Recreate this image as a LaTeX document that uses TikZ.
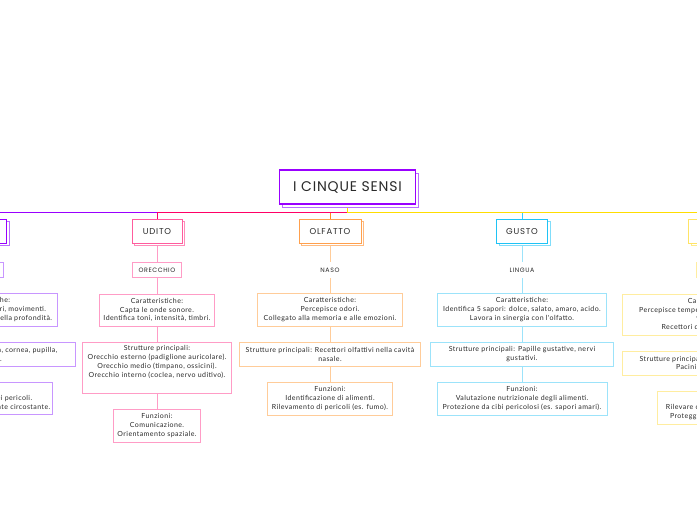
\documentclass[tikz,border=0pt]{standalone}
\usepackage{fontspec}
\setmainfont{Lato}
\newfontfamily\headfont{Poppins}[LetterSpace=9]
\newfontfamily\titlefont{Poppins}[LetterSpace=6]
\newfontfamily\bodyfont{Lato}[LetterSpace=6]
\usetikzlibrary{shadows,backgrounds}
\definecolor{textc}{HTML}{2A2A2A}
\definecolor{purpleMain}{HTML}{9900FF}
\definecolor{purpleShadow}{HTML}{B870FF}
\definecolor{purpleLight}{HTML}{C896FF}
\definecolor{pinkMain}{HTML}{FF0066}
\definecolor{pinkHead}{HTML}{FF5C9D}
\definecolor{pinkShadow}{HTML}{FF8CBA}
\definecolor{pinkLight}{HTML}{FF9CC6}
\definecolor{orangeMain}{HTML}{FF8A1F}
\definecolor{orangeHead}{HTML}{FFA04D}
\definecolor{orangeShadow}{HTML}{FFBB80}
\definecolor{orangeLight}{HTML}{FFCC99}
\definecolor{blueMain}{HTML}{33CCFF}
\definecolor{blueHead}{HTML}{1FC3F5}
\definecolor{blueShadow}{HTML}{80DDFA}
\definecolor{blueLight}{HTML}{9CE3FA}
\definecolor{yellowMain}{HTML}{FFDD00}
\definecolor{yellowHead}{HTML}{FFE466}
\definecolor{yellowShadow}{HTML}{FFEC8C}
\definecolor{yellowLight}{HTML}{FFEDA0}
\tikzset{
  titlebox/.style={rectangle, draw=purpleMain, line width=1.2pt, fill=white,
    minimum width=136pt, minimum height=34pt, text=textc,
    font=\titlefont\fontsize{14}{16}\selectfont,
    copy shadow={shadow xshift=3.3pt, shadow yshift=-3.3pt, draw=purpleShadow, fill=white, line width=1.2pt}},
  headbox/.style 2 args={rectangle, draw=#1, line width=1pt, fill=white,
    minimum height=24pt, text=textc, inner sep=1pt,
    font=\headfont\fontsize{8.5}{10}\selectfont,
    copy shadow={shadow xshift=2.5pt, shadow yshift=-2.5pt, draw=#2, fill=white, line width=1pt}},
  sublabel/.style={rectangle, draw=#1, line width=0.8pt, fill=white,
    minimum height=15.7pt, text=textc, inner sep=1pt,
    font=\headfont\fontsize{6.3}{8}\selectfont},
  infobox/.style={rectangle, draw=#1, line width=0.8pt, fill=white,
    align=center, text=textc, inner sep=2pt,
    font=\bodyfont\fontsize{7}{8.8}\selectfont},
  busline/.style={draw=#1, line width=0.9pt},
  colline/.style={draw=#1, line width=0.9pt},
}
\begin{document}
\begin{tikzpicture}[x=1pt,y=-1pt]
\useasboundingbox (0,0) rectangle (697,520);
\clip (0,0) rectangle (697,520);
\coordinate (bus) at (0,212);

% root
\node[titlebox] (root) at (347.5,187) {I CINQUE SENSI};

% heads
\node[headbox={purpleMain}{purpleShadow}, minimum width=45.4pt] (vista) at (-16,231.3) {VISTA};
\node[headbox={pinkHead}{pinkShadow}, minimum width=50pt] (udito) at (157,231.3) {UDITO};
\node[headbox={orangeHead}{orangeShadow}, minimum width=62pt] (olfatto) at (330,231.3) {OLFATTO};
\node[headbox={blueHead}{blueShadow}, minimum width=51pt] (gusto) at (522,231.3) {GUSTO};
\node[headbox={yellowHead}{yellowShadow}, minimum width=50.6pt] (tatto) at (714,231.3) {TATTO};

% sub labels
\node[sublabel=purpleLight, minimum width=38pt] (occhio) at (-16,269.8) {OCCHIO};
\node[sublabel=pinkLight, minimum width=48.7pt] (orecchio) at (157,269.8) {ORECCHIO};
\node[sublabel=white, minimum width=30pt] (naso) at (330,269.8) {NASO};
\node[sublabel=white, minimum width=36pt] (lingua) at (522,269.8) {LINGUA};
\node[sublabel=yellowLight, minimum width=36pt] (pelle) at (714,269.8) {PELLE};

% VISTA
\node[infobox=purpleLight, minimum width=146.6pt, minimum height=32.7pt] (v1) at (-16,309.7)
  {Caratteristiche:\\Percepisce forme, colori, movimenti.\\Permette la percezione della profondità.};
\node[infobox=purpleLight, minimum width=183.4pt, minimum height=23.3pt] (v2) at (-16,354.3)
  {Strutture principali: Retina, cornea, pupilla,\\cristallino.};
\node[infobox=purpleLight, minimum width=133.4pt, minimum height=31.7pt] (v3) at (-16,398.2)
  {Funzioni:\\Riconoscimento dei pericoli.\\Interazione con l'ambiente circostante.};

% UDITO
\node[infobox=pinkLight, minimum width=115pt, minimum height=32pt] (u1) at (157,310)
  {Caratteristiche:\\Capta le onde sonore.\\Identifica toni, intensità, timbri.};
\node[infobox=pinkLight, minimum width=148.4pt, minimum height=50.6pt] (u2) at (157,368)
  {Strutture principali:\\Orecchio esterno (padiglione auricolare).\\Orecchio medio (timpano, ossicini).\\Orecchio interno (coclea, nervo uditivo).\\[4pt]};
\node[infobox=pinkLight, minimum width=87.7pt, minimum height=33pt] (u3) at (157,425.8)
  {Funzioni:\\Comunicazione.\\Orientamento spaziale.};

% OLFATTO
\node[infobox=orangeLight, minimum width=145.7pt, minimum height=32.7pt] (o1) at (330,309.7)
  {Caratteristiche:\\Percepisce odori.\\Collegato alla memoria e alle emozioni.};
\node[infobox=orangeLight, minimum width=181pt, minimum height=23.3pt] (o2) at (330,354.3)
  {Strutture principali: Recettori olfattivi nella cavità\\nasale.};
\node[infobox=orangeLight, minimum width=125.7pt, minimum height=32.7pt] (o3) at (330,398.7)
  {Funzioni:\\Identificazione di alimenti.\\Rilevamento di pericoli (es. fumo).};

% GUSTO
\node[infobox=blueLight, minimum width=169pt, minimum height=32.7pt] (g1) at (522,309.7)
  {Caratteristiche:\\Identifica 5 sapori: dolce, salato, amaro, acido.\\Lavora in sinergia con l'olfatto.};
\node[infobox=blueLight, minimum width=183.3pt, minimum height=23.3pt] (g2) at (522,354.3)
  {Strutture principali: Papille gustative, nervi\\gustativi.};
\node[infobox=blueLight, minimum width=170pt, minimum height=32.7pt] (g3) at (522,398.7)
  {Funzioni:\\Valutazione nutrizionale degli alimenti.\\Protezione da cibi pericolosi (es. sapori amari).};

% TATTO
\node[infobox=yellowLight, minimum width=182.6pt, minimum height=41pt] (t1) at (714,314.5)
  {Caratteristiche:\\Percepisce temperatura, pressione, dolore e\\vibrazioni.\\Recettori distribuiti nella pelle.};
\node[infobox=yellowLight, minimum width=182.6pt, minimum height=23.3pt] (t2) at (714,363.3)
  {Strutture principali: Corpuscoli di Meissner,\\Pacini, Ruffini, Merkel.};
\node[infobox=yellowLight, minimum width=113.4pt, minimum height=32.3pt] (t3) at (714,407.8)
  {Funzioni:\\Rilevare contatti e pressioni.\\Proteggere da danni fisici.};

\begin{pgfonlayer}{background}
  % bus connectors, drawn in overlap order
  \draw[busline=blueMain] (root.south) -- (root.south |- bus) -| (gusto.north);
  \draw[busline=orangeMain] (root.south) -- (root.south |- bus) -| (olfatto.north);
  \draw[busline=purpleMain] (root.south) -- (root.south |- bus) -| (vista.north);
  \draw[busline=pinkMain] (root.south) -- (root.south |- bus) -| (udito.north);
  \draw[busline=yellowMain] (root.south) -- (root.south |- bus) -| (tatto.north);
  % column connectors
  \draw[colline=purpleLight] (vista) -- (occhio) -- (v1) -- (v2) -- (v3);
  \draw[colline=pinkLight] (udito) -- (orecchio) -- (u1) -- (u2) -- (u3);
  \draw[colline=orangeLight] (olfatto) -- (naso) -- (o1) -- (o2) -- (o3);
  \draw[colline=blueLight] (gusto) -- (lingua) -- (g1) -- (g2) -- (g3);
  \draw[colline=yellowLight] (tatto) -- (pelle) -- (t1) -- (t2) -- (t3);
\end{pgfonlayer}
\end{tikzpicture}
\end{document}
